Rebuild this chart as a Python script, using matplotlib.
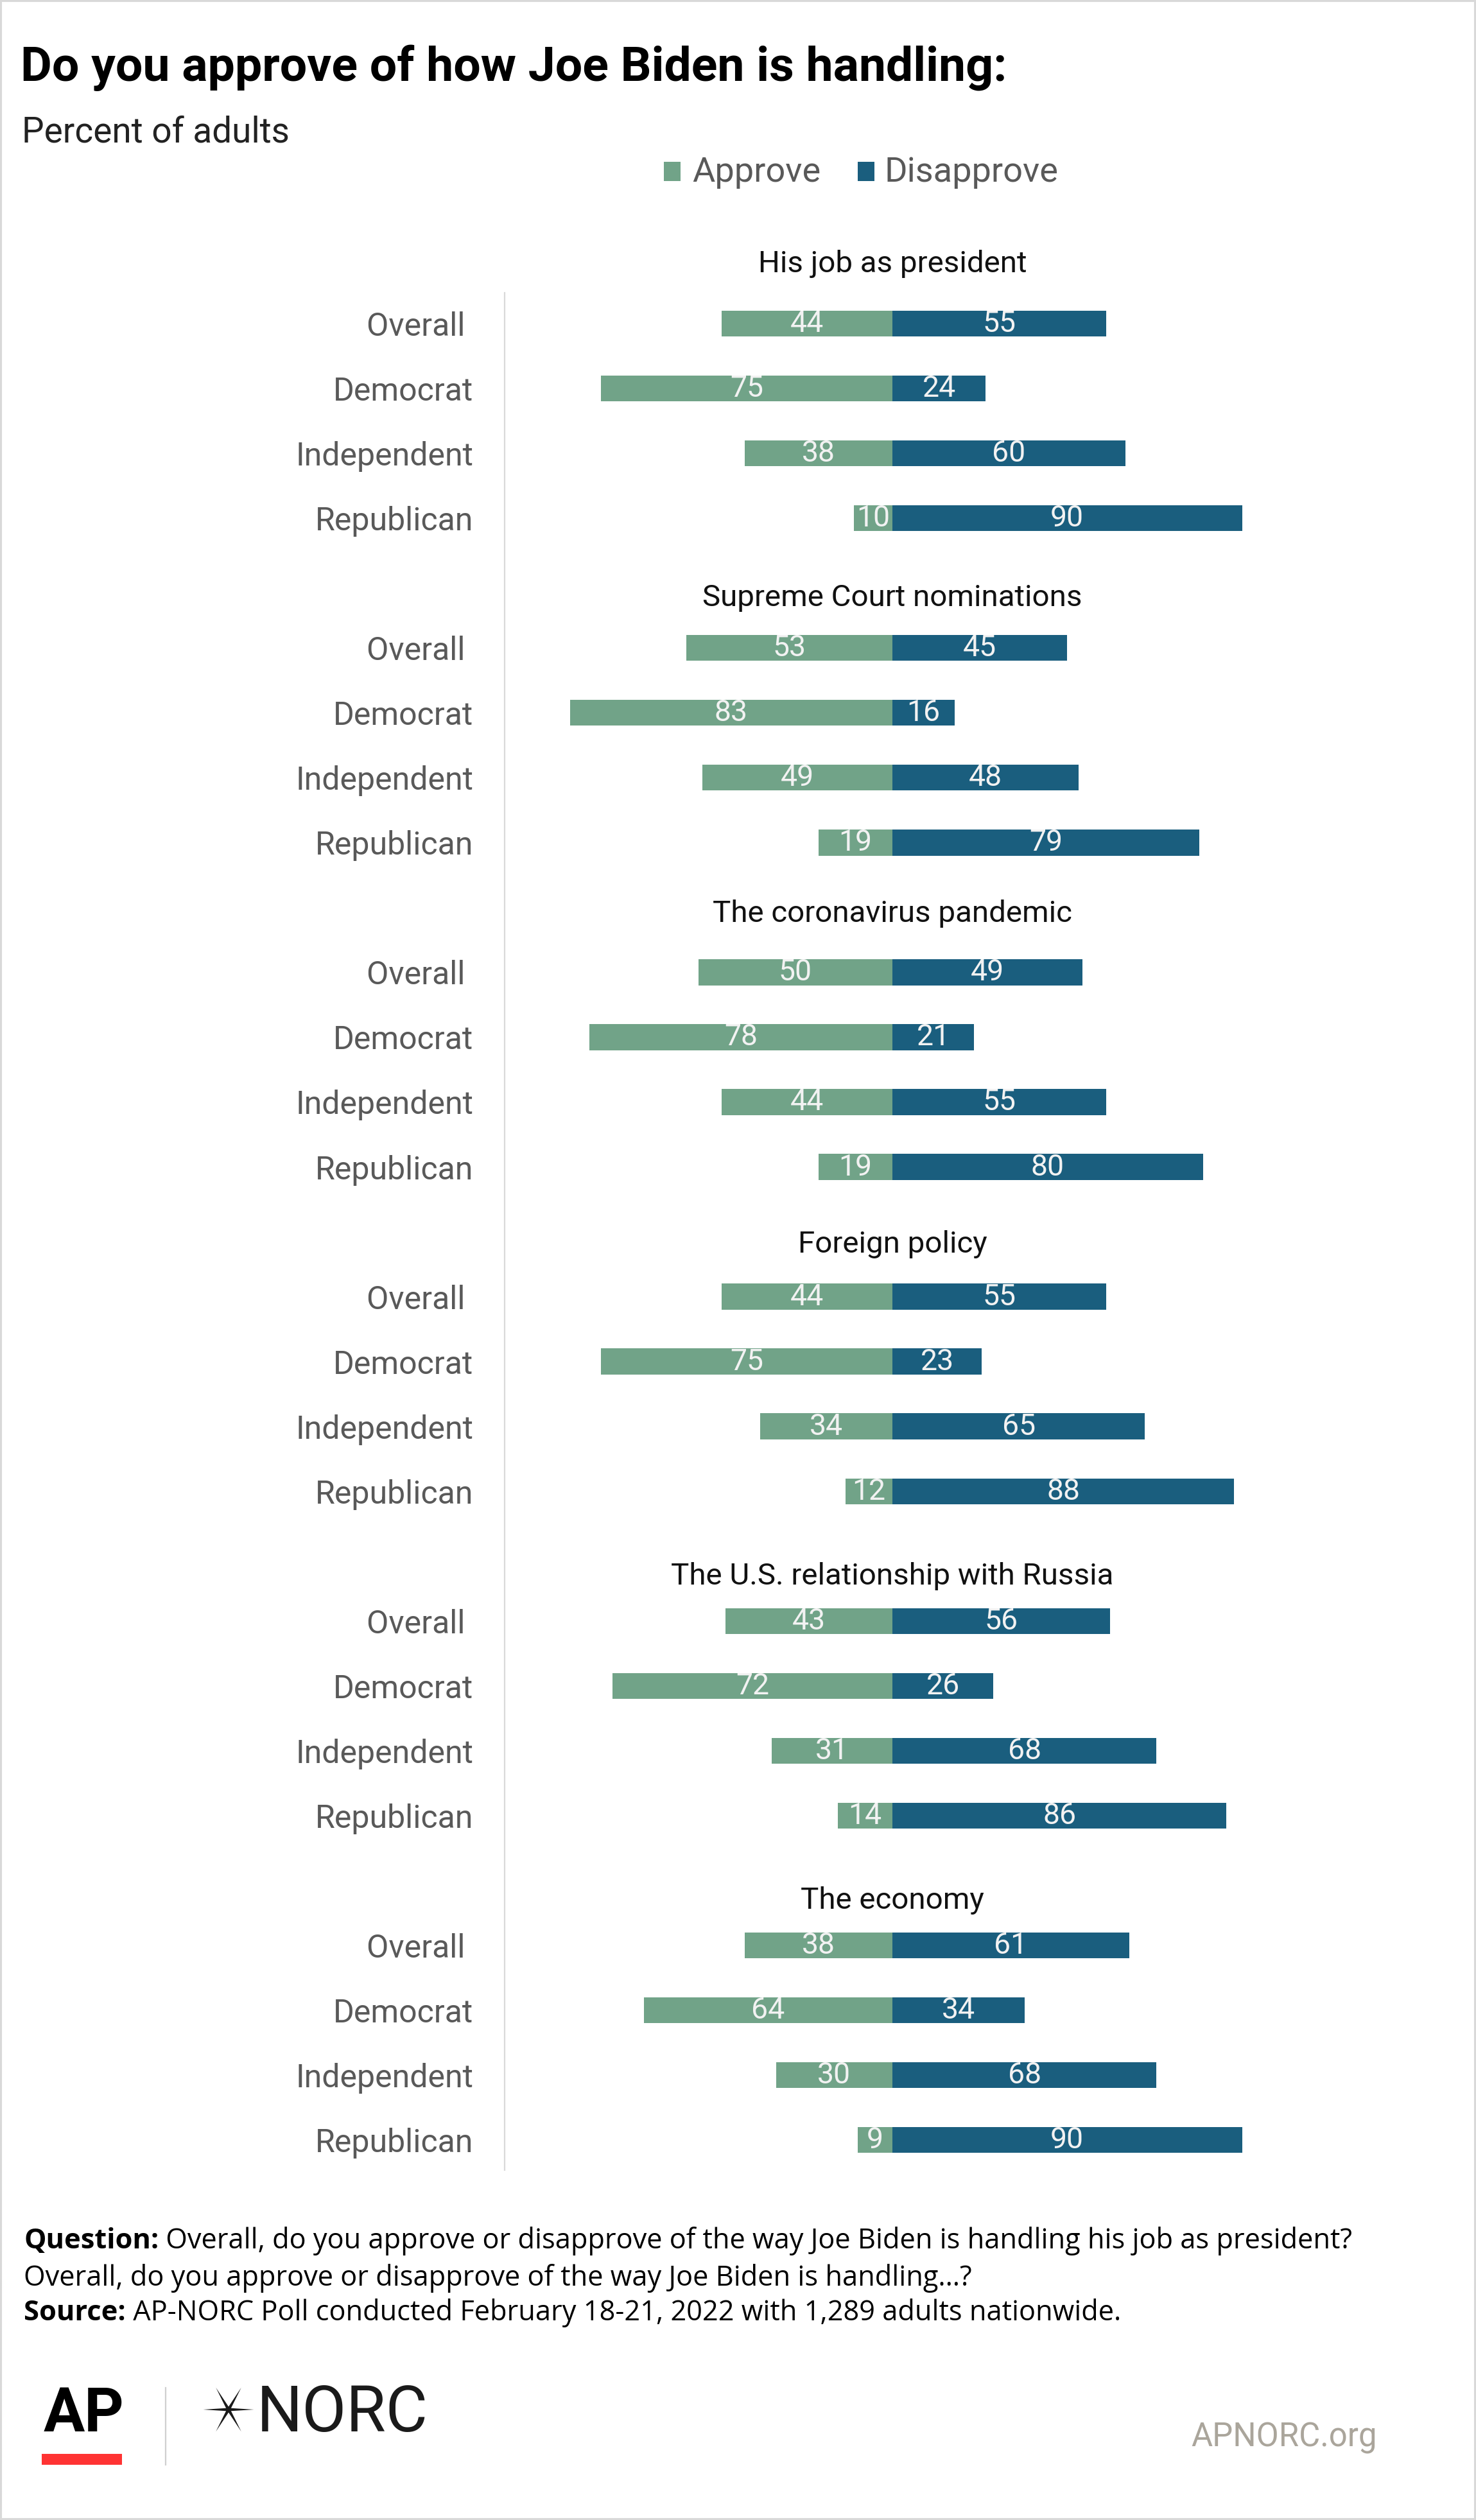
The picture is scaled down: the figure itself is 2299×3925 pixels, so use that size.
import matplotlib
matplotlib.use("Agg")
import numpy as np
import matplotlib.pyplot as plt
from matplotlib.patches import Rectangle, Polygon

# ---------------- data ----------------
topics = ["His job as president", "Supreme Court nominations", "The coronavirus pandemic",
          "Foreign policy", "The U.S. relationship with Russia", "The economy"]
groups = ["Overall ", "Democrat", "Independent", "Republican"]
approve = [[44, 75, 38, 10],
           [53, 83, 49, 19],
           [50, 78, 44, 19],
           [44, 75, 34, 12],
           [43, 72, 31, 14],
           [38, 64, 30, 9]]
disapprove = [[55, 24, 60, 90],
              [45, 16, 48, 79],
              [49, 21, 55, 80],
              [55, 23, 65, 88],
              [56, 26, 68, 86],
              [61, 34, 68, 90]]
series_names = ["Approve", "Disapprove"]

# ---------------- style ----------------
GREEN = "#71A388"
BLUE = "#1A5E7E"
GREY = "#595959"
W, H, DPI = 2299, 3925, 200
plt.rcParams["font.family"] = ["Roboto", "DejaVu Sans"]

fig = plt.figure(figsize=(W / DPI, H / DPI), dpi=DPI)
fig.patch.set_facecolor("white")


def fx(x):
    return x / W


def fy(y):
    return 1 - y / H


# axes geometry (pixels)
ppu = 6.05          # pixels per percent
zero_px = 1390
ax_l, ax_r = 786, 2200
ax_t, ax_b = 456, 3380
row0_px, row_px = 504, 101.04
ax = fig.add_axes([fx(ax_l), fy(ax_b), fx(ax_r) - fx(ax_l), (ax_b - ax_t) / H])
ax.set_xlim(-(zero_px - ax_l) / ppu, (ax_r - zero_px) / ppu)
ax.set_ylim(28 + (ax_b - (row0_px + 28 * row_px)) / row_px, -(row0_px - ax_t) / row_px)
ax.set_facecolor("none")
for s in ["top", "right", "bottom"]:
    ax.spines[s].set_visible(False)
ax.spines["left"].set_color("#d9d9d9")
ax.spines["left"].set_linewidth(0.8)
ax.set_xticks([])

title_off = [0.79, 0.65, 0.78, 0.68, 0.56, 0.56]
yticks, ylabels = [], []
for g, topic in enumerate(topics):
    ys = [g * 5 + r for r in range(len(groups))]
    a = approve[g]
    d = disapprove[g]
    ax.barh(ys, [-v for v in a], height=0.4, color=GREEN, linewidth=0)
    ax.barh(ys, d, height=0.4, color=BLUE, linewidth=0)
    for y, av, dv in zip(ys, a, d):
        ax.text(-av / 2, y, str(av), ha="center", va="center", color="#F2F2F2", fontsize=16.7)
        ax.text(dv / 2, y, str(dv), ha="center", va="center", color="#F2F2F2", fontsize=16.7)
    ax.text(0, g * 5 - title_off[g], topic, ha="center", va="baseline", color="#111111",
            fontsize=17.1, clip_on=False)
    yticks += ys
    ylabels += groups
ax.set_yticks(yticks)
ax.set_yticklabels(ylabels, fontsize=18, color=GREY)
ax.tick_params(axis="y", length=0, pad=17.6)

# ---------------- titles ----------------
fig.text(fx(32), fy(126), "Do you approve of how Joe Biden is handling:", fontsize=27.1,
         fontweight="bold", color="black", va="baseline", ha="left")
fig.text(fx(34), fy(221), "Percent of adults", fontsize=19.8, color="#222222",
         va="baseline", ha="left")

# legend
for (sx, tx, col, name) in [(1034, 1078, GREEN, series_names[0]), (1336, 1378, BLUE, series_names[1])]:
    fig.patches.append(Rectangle((fx(sx), fy(282)), 26 / W, 30 / H, transform=fig.transFigure,
                                 facecolor=col, edgecolor="none"))
    fig.text(fx(tx), fy(283), name, fontsize=19.5, color=GREY, va="baseline", ha="left")

# ---------------- footer ----------------
renderer = fig.canvas.get_renderer()
FS = 15.6
FF = ["Open Sans", "DejaVu Sans"]


def mixed(xpx, ypx, bold, rest, size=FS):
    t = fig.text(fx(xpx), fy(ypx), bold, fontsize=size, fontweight="bold", color="black",
                 va="baseline", ha="left", family=FF)
    bb = t.get_window_extent(renderer=renderer)
    fig.text(bb.x1 / W, fy(ypx), rest, fontsize=size, color="black", va="baseline", ha="left",
             family=FF)


mixed(37, 3502, "Question:", " Overall, do you approve or disapprove of the way Joe Biden is handling his job as president?")
fig.text(fx(37), fy(3560), "Overall, do you approve or disapprove of the way Joe Biden is handling\u2026?",
         fontsize=FS, color="black", va="baseline", ha="left", family=FF)
mixed(37, 3614, "Source:", " AP-NORC Poll conducted February 18-21, 2022 with 1,289 adults nationwide.")

# logos
fig.text(fx(68), fy(3787), "AP", fontsize=34.4, fontweight="bold", color="black",
         va="baseline", ha="left")
fig.patches.append(Rectangle((fx(65), fy(3839)), 125 / W, 17 / H, transform=fig.transFigure,
                             facecolor="#FF3333", edgecolor="none"))
fig.add_artist(plt.Line2D([fx(258), fx(258)], [fy(3839), fy(3719)], color="#d0d0d0", lw=0.8))
cx, cy, r_out, r_in = 356, 3753, 39.5, 4.5
pts = []
for i in range(12):
    ang = np.deg2rad(i * 30)
    r = r_out if i % 2 == 0 else r_in
    pts.append((fx(cx + r * np.cos(ang)), fy(cy - r * np.sin(ang))))
fig.patches.append(Polygon(pts, closed=True, transform=fig.transFigure,
                           facecolor="#1a1a1a", edgecolor="none"))
fig.text(fx(400), fy(3787), "NORC", fontsize=36, color="#1a1a1a", va="baseline", ha="left")
fig.text(fx(1855), fy(3811), "APNORC.org", fontsize=18.3, color="#AAA59B", va="baseline", ha="left")

# border
fig.patches.append(Rectangle((0, 0), 1, 1, transform=fig.transFigure, fill=False,
                             edgecolor="#d9d9d9", lw=2.2))

fig.savefig("out.png", dpi=DPI, facecolor="white")
